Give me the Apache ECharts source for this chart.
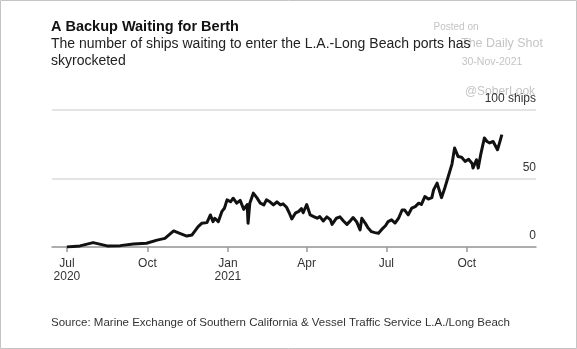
<!DOCTYPE html>
<html>
<head>
<meta charset="utf-8">
<script src="https://cdn.jsdelivr.net/npm/echarts@6/dist/echarts.min.js"></script>
<style>
html,body{margin:0;padding:0;background:#fff;}
#c{width:577px;height:349px;}
</style>
</head>
<body>
<div id="c"></div>
<script>
const titleText = 'A Backup Waiting for Berth';
const subtitleLines = ['The number of ships waiting to enter the L.A.-Long Beach ports has', 'skyrocketed'];
const sourceText = 'Source: Marine Exchange of Southern California & Vessel Traffic Service L.A./Long Beach';
const watermark = ['Posted on', 'The Daily Shot', '30-Nov-2021', '@SoberLook'];

const dates = [
 '2020-07-01','2020-07-16','2020-07-31','2020-08-16','2020-08-31','2020-09-15','2020-09-30',
 '2020-10-12','2020-10-21','2020-10-31','2020-11-07','2020-11-15','2020-11-21','2020-11-28',
 '2020-12-02','2020-12-08','2020-12-12','2020-12-15','2020-12-17','2020-12-21','2020-12-25',
 '2020-12-28','2020-12-31','2021-01-04','2021-01-07','2021-01-11','2021-01-15','2021-01-19',
 '2021-01-23','2021-01-24','2021-01-26','2021-01-30','2021-02-03','2021-02-07','2021-02-11',
 '2021-02-14','2021-02-18','2021-02-22','2021-02-26','2021-03-02','2021-03-05','2021-03-09',
 '2021-03-12','2021-03-15','2021-03-19','2021-03-23','2021-03-26','2021-03-28','2021-04-01',
 '2021-04-05','2021-04-09','2021-04-13','2021-04-16','2021-04-20','2021-04-24','2021-04-28',
 '2021-04-30','2021-05-05','2021-05-09','2021-05-13','2021-05-17','2021-05-20','2021-05-24',
 '2021-05-28','2021-06-01','2021-06-03','2021-06-07','2021-06-10','2021-06-14','2021-06-18',
 '2021-06-22','2021-06-26','2021-06-30','2021-07-03','2021-07-07','2021-07-11','2021-07-15',
 '2021-07-19','2021-07-22','2021-07-26','2021-07-30','2021-08-03','2021-08-07','2021-08-10',
 '2021-08-14','2021-08-18','2021-08-22','2021-08-24','2021-08-28','2021-08-29','2021-09-02',
 '2021-09-06','2021-09-10','2021-09-14','2021-09-17','2021-09-21','2021-09-25','2021-09-29',
 '2021-10-03','2021-10-07','2021-10-08','2021-10-12','2021-10-14','2021-10-17','2021-10-21',
 '2021-10-24','2021-10-27','2021-10-31','2021-11-02','2021-11-05','2021-11-08','2021-11-10'
];
const ships = [
 0,0.8,3.2,0.8,1,2.2,2.7,
 5,6.3,11.7,10,8,8.8,14.9,
 17.3,17.8,23.4,18.5,21,18.5,25.8,
 28.3,34.4,33,35.6,32,34,27.5,
 31,17.3,32,39.3,36,32,30.7,
 34.4,33,30.7,33,30.7,31.5,29,
 25,20.5,24.7,26,28,25,31,
 23.4,22.2,21,22.2,19,22,20,
 16.5,21,22,19,16.5,18.5,21.5,
 18.5,12.5,21,17.3,14,11.2,10.5,
 10,13,15.5,18.5,19.8,17.5,21,
 27,27,23.5,28.3,29.5,32,31,
 36.8,35,36,41.7,46.6,46,36,
 43.5,52,60.5,72.3,66,65.5,62.5,
 64,61,57.6,63.7,57.6,68,79.6,
 77,76,77,76,71,77.5,82
];
const tickDates = ['2020-07-01','2020-10-01','2021-01-01','2021-04-01','2021-07-01','2021-10-01'];
const monthNames = ['Jan','Feb','Mar','Apr','May','Jun','Jul','Aug','Sep','Oct','Nov','Dec'];
const yTicks = [0, 50, 100];
const xRange = ['2020-06-14', '2021-12-19'];

function ts(s) { const p = s.split('-').map(Number); return Date.UTC(p[0], p[1] - 1, p[2]); }
const tickValues = tickDates.map(ts);
const FONT = '"Liberation Sans", Arial, Helvetica, sans-serif';

const chart = echarts.init(document.getElementById('c'), null, {renderer: 'canvas'});
chart.setOption({
  animation: false,
  backgroundColor: '#fff',
  grid: {left: 52, right: 41, top: 110, bottom: 102},
  xAxis: {
    type: 'value',
    min: ts(xRange[0]),
    max: ts(xRange[1]),
    axisLine: {show: true, onZero: false, lineStyle: {color: '#9a9a9a', width: 1.5}},
    axisTick: {show: true, customValues: tickValues, length: 5, lineStyle: {color: '#9a9a9a', width: 1.5}},
    splitLine: {show: false},
    axisLabel: {
      customValues: tickValues,
      margin: 10,
      color: '#333',
      fontSize: 12,
      fontFamily: FONT,
      lineHeight: 13,
      hideOverlap: false,
      showMinLabel: true,
      showMaxLabel: true,
      formatter: function (v) {
        const d = new Date(v);
        const m = monthNames[d.getUTCMonth()];
        if (v === tickValues[0] || d.getUTCMonth() === 0) return m + '\n' + d.getUTCFullYear();
        return m;
      }
    }
  },
  yAxis: {
    type: 'value',
    position: 'right',
    min: yTicks[0],
    max: yTicks[yTicks.length - 1],
    interval: 50,
    axisLine: {show: false},
    axisTick: {show: false},
    splitLine: {lineStyle: {color: '#e4e4e4', width: 2}},
    axisLabel: {
      inside: true,
      margin: 0,
      verticalAlign: 'bottom',
      padding: [0, 0, 5, 0],
      color: '#333',
      fontSize: 12,
      fontFamily: FONT,
      formatter: function (v) { return v === 100 ? '100 ships' : String(v); }
    }
  },
  series: [{
    type: 'line',
    data: dates.map((d, i) => [ts(d), ships[i]]),
    showSymbol: false,
    lineStyle: {color: '#111', width: 3, join: 'round'},
    z: 5
  }],
  graphic: [
    {type: 'rect', shape: {x: 0.5, y: 0.5, width: 576, height: 348}, style: {fill: 'none', stroke: '#c4c4c4', lineWidth: 1}, silent: true},
    {type: 'text', x: 456, y: 27, style: {text: watermark[0], fill: '#c4c4c4', font: '10px ' + FONT, textAlign: 'center', textVerticalAlign: 'middle'}},
    {type: 'text', x: 543, y: 44, style: {text: watermark[1], fill: '#c4c4c4', font: '12.5px ' + FONT, textAlign: 'right', textVerticalAlign: 'middle'}},
    {type: 'text', x: 492, y: 62, style: {text: watermark[2], fill: '#c4c4c4', font: '10.5px ' + FONT, textAlign: 'center', textVerticalAlign: 'middle'}},
    {type: 'text', x: 500, y: 92, style: {text: watermark[3], fill: '#c4c4c4', font: '12px ' + FONT, textAlign: 'center', textVerticalAlign: 'middle'}},
    {type: 'text', x: 51, y: 27, style: {text: titleText, fill: '#111', font: 'bold 14.5px ' + FONT, textAlign: 'left', textVerticalAlign: 'middle'}},
    {type: 'text', x: 51, y: 44, style: {text: subtitleLines[0], fill: '#222', font: '14px ' + FONT, textAlign: 'left', textVerticalAlign: 'middle'}},
    {type: 'text', x: 51, y: 61, style: {text: subtitleLines[1], fill: '#222', font: '14px ' + FONT, textAlign: 'left', textVerticalAlign: 'middle'}},
    {type: 'text', x: 51, y: 323, style: {text: sourceText, fill: '#333', font: '11.5px ' + FONT, textAlign: 'left', textVerticalAlign: 'middle'}}
  ]
});
</script>
</body>
</html>
